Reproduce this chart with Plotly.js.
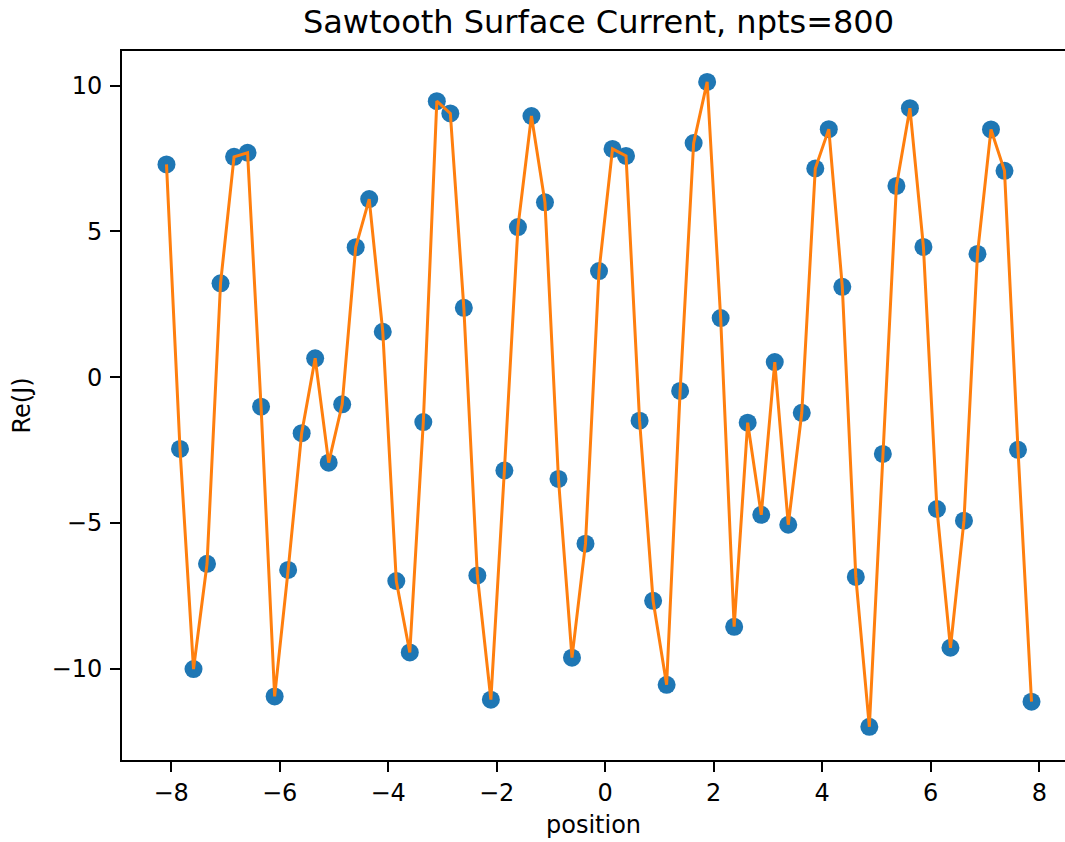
<!DOCTYPE html>
<html>
<head>
<meta charset="utf-8">
<script src="https://cdn.plot.ly/plotly-3.0.1.min.js"></script>
<style>
html, body { margin: 0; padding: 0; overflow: hidden; background: #fff; }
#chart { width: 1065px; height: 842px; }
</style>
</head>
<body>
<div id="chart"></div>
<script>
const position = [
  -8.085, -7.836, -7.587, -7.338, -7.089, -6.840, -6.591, -6.342, -6.092, -5.843,
  -5.594, -5.345, -5.096, -4.847, -4.598, -4.349, -4.099, -3.850, -3.601, -3.352,
  -3.103, -2.854, -2.605, -2.356, -2.107, -1.858, -1.608, -1.359, -1.110, -0.861,
  -0.612, -0.363, -0.114, 0.135, 0.384, 0.634, 0.883, 1.132, 1.381, 1.630,
  1.879, 2.128, 2.377, 2.626, 2.876, 3.125, 3.374, 3.623, 3.872, 4.121,
  4.370, 4.619, 4.868, 5.117, 5.367, 5.616, 5.865, 6.114, 6.363, 6.612,
  6.861, 7.110, 7.359, 7.608, 7.857
];
const reJ = [
  7.30, -2.46, -10.01, -6.40, 3.22, 7.56, 7.70, -1.01, -10.95, -6.61,
  -1.92, 0.65, -2.93, -0.93, 4.46, 6.11, 1.56, -6.99, -9.44, -1.54,
  9.47, 9.05, 2.38, -6.80, -11.06, -3.20, 5.15, 8.96, 6.00, -3.49,
  -9.62, -5.71, 3.64, 7.83, 7.59, -1.49, -7.67, -10.55, -0.47, 8.03,
  10.13, 2.03, -8.56, -1.56, -4.72, 0.52, -5.06, -1.22, 7.16, 8.51,
  3.10, -6.85, -11.99, -2.63, 6.56, 9.23, 4.47, -4.52, -9.28, -4.92,
  4.23, 8.50, 7.08, -2.49, -11.13
];
const titleText = "Sawtooth Surface Current, npts=800";
const xLabel = "position";
const yLabel = "Re(J)";
const xTicks = [-8, -6, -4, -2, 0, 2, 4, 6, 8];
const yTicks = [-10, -5, 0, 5, 10];

const font = "DejaVu Sans, sans-serif";

const traces = [
  {
    x: position, y: reJ, type: "scatter", mode: "markers",
    marker: { color: "#1f77b4", size: 18 },
    hoverinfo: "skip", showlegend: false
  },
  {
    x: position, y: reJ, type: "scatter", mode: "lines",
    line: { color: "#ff7f0e", width: 3 },
    hoverinfo: "skip", showlegend: false
  }
];

const tickFmt = v => (v < 0 ? "\u2212" + Math.abs(v) : String(v));

const layout = {
  width: 1065, height: 842,
  margin: { l: 122, r: 0, t: 51, b: 82, pad: 0 },
  paper_bgcolor: "#fff", plot_bgcolor: "#fff",
  font: { family: font, color: "#000", size: 24 },
  title: {
    text: titleText,
    font: { family: font, size: 32, color: "#000" },
    xref: "container", x: 598.5 / 1065, xanchor: "center",
    yref: "container", y: 1 - 22 / 842, yanchor: "middle"
  },
  xaxis: {
    range: [-8.905, 8.474],
    tickmode: "array", tickvals: xTicks, ticktext: xTicks.map(tickFmt),
    ticks: "outside", ticklen: 10, tickwidth: 2, tickcolor: "#000",
    showline: true, linecolor: "#000", linewidth: 2, mirror: true,
    showgrid: false, zeroline: false,
    tickfont: { family: font, size: 24, color: "#000" },
    title: { text: xLabel, font: { family: font, size: 24, color: "#000" }, standoff: 10 }
  },
  yaxis: {
    range: [-13.13, 11.19],
    tickmode: "array", tickvals: yTicks, ticktext: yTicks.map(tickFmt),
    ticks: "outside", ticklen: 10, tickwidth: 2, tickcolor: "#000",
    ticklabelstandoff: 3,
    showline: true, linecolor: "#000", linewidth: 2, mirror: false,
    showgrid: false, zeroline: false,
    tickfont: { family: font, size: 24, color: "#000" },
    title: { text: yLabel, font: { family: font, size: 24, color: "#000" }, standoff: 14 }
  }
};

Plotly.newPlot("chart", traces, layout, { displayModeBar: false, staticPlot: true });
</script>
</body>
</html>
